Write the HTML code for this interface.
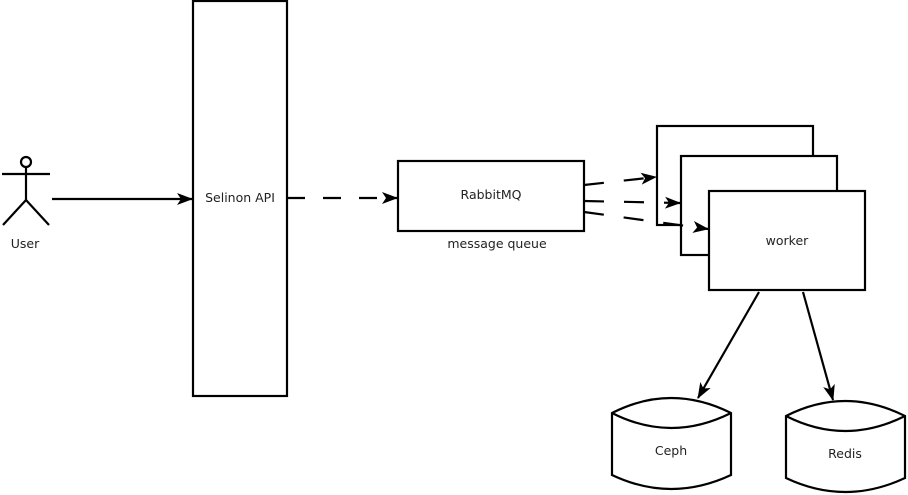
<!DOCTYPE html>
<html><head><style>
html,body{margin:0;padding:0;background:#fff;}
svg{display:block;}
text{font-family:"DejaVu Sans","Liberation Sans",sans-serif;font-size:12.5px;fill:#222;}
</style></head><body>
<svg width="908" height="495" viewBox="0 0 908 495" xmlns="http://www.w3.org/2000/svg">
<defs>
<marker id="a" markerWidth="16" markerHeight="12" refX="15" refY="6" orient="auto" markerUnits="userSpaceOnUse">
<path d="M0,0 L16,6 L0,12 L4,6 Z" fill="#000"/>
</marker>
</defs>
<g fill="none" stroke="#000" stroke-width="2.2">
<circle cx="26" cy="162" r="5"/>
<line x1="2" y1="174" x2="50" y2="174"/>
<line x1="26" y1="167" x2="26" y2="200"/>
<line x1="26" y1="200" x2="3" y2="225"/>
<line x1="26" y1="200" x2="49" y2="225"/>
<line x1="52" y1="199" x2="192" y2="199" marker-end="url(#a)"/>
<rect x="193" y="1" width="94" height="395" fill="#fff"/>
<line x1="287" y1="198" x2="397" y2="198" stroke-dasharray="18,18" marker-end="url(#a)"/>
<rect x="398" y="161" width="186" height="70" fill="#fff"/>
<rect x="657" y="126" width="156" height="99" fill="#fff"/>
<rect x="681" y="156" width="156" height="99" fill="#fff"/>
<rect x="709" y="191" width="156" height="99" fill="#fff"/>
<line x1="584" y1="185" x2="656" y2="177" stroke-dasharray="20,20" marker-end="url(#a)"/>
<line x1="584" y1="201" x2="680" y2="203" stroke-dasharray="20,20" marker-end="url(#a)"/>
<line x1="584" y1="212" x2="708" y2="229" stroke-dasharray="20,20" marker-end="url(#a)"/>
<line x1="759" y1="292" x2="698" y2="398" marker-end="url(#a)"/>
<line x1="803" y1="292" x2="833" y2="400" marker-end="url(#a)"/>
<path d="M612,413 Q671,383 731,413 L731,475 Q671,503 612,475 Z" fill="#fff"/>
<path d="M612,413 Q671,443 731,413"/>
<path d="M786,416 Q845,386 905,416 L905,478 Q845,506 786,478 Z" fill="#fff"/>
<path d="M786,416 Q845,446 905,416"/>
</g>
<text x="25" y="248" text-anchor="middle">User</text>
<text x="240" y="202" text-anchor="middle">Selinon API</text>
<text x="491" y="199" text-anchor="middle">RabbitMQ</text>
<text x="497" y="248" text-anchor="middle">message queue</text>
<text x="787" y="245" text-anchor="middle">worker</text>
<text x="671" y="455" text-anchor="middle">Ceph</text>
<text x="845" y="458" text-anchor="middle">Redis</text>
</svg>
</body></html>
